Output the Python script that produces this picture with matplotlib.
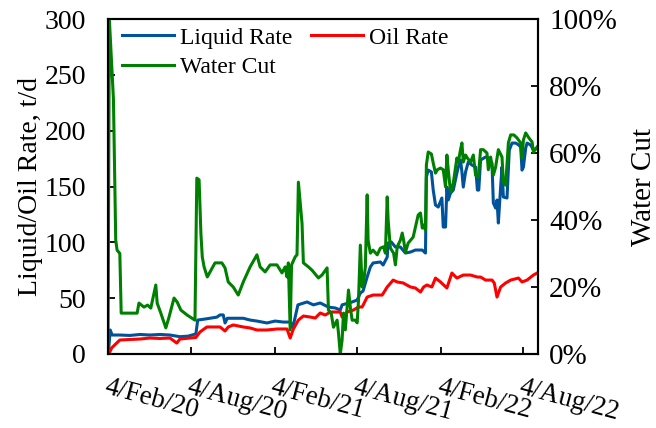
import matplotlib
matplotlib.use('Agg')
import matplotlib.pyplot as plt
from matplotlib.ticker import PercentFormatter
import pandas as pd

# Liquid rate, t/d
liq_dates = ['2020-02-05', '2020-02-09', '2020-02-13', '2020-03-01', '2020-03-23', '2020-04-14',
             '2020-05-06', '2020-05-28', '2020-06-19', '2020-07-11', '2020-07-29', '2020-08-15',
             '2020-08-19', '2020-09-04', '2020-09-30', '2020-10-07', '2020-10-14', '2020-10-18',
             '2020-10-23', '2020-11-09', '2020-11-27', '2020-12-12', '2020-12-27', '2021-01-18',
             '2021-02-05', '2021-02-23', '2021-03-10', '2021-03-14', '2021-03-19', '2021-03-27',
             '2021-04-16', '2021-04-30', '2021-05-15', '2021-06-02', '2021-06-17', '2021-06-28',
             '2021-07-02', '2021-07-24', '2021-08-04', '2021-08-11', '2021-08-17', '2021-08-26',
             '2021-09-02', '2021-09-08', '2021-09-24', '2021-09-30', '2021-10-09', '2021-10-11',
             '2021-10-18', '2021-10-27', '2021-11-07', '2021-11-18', '2021-11-29', '2021-12-10',
             '2021-12-25', '2022-01-01', '2022-01-03', '2022-01-07', '2022-01-14', '2022-01-18',
             '2022-01-23', '2022-01-29', '2022-02-06', '2022-02-09', '2022-02-14', '2022-02-17',
             '2022-02-20', '2022-02-25', '2022-03-03', '2022-03-11', '2022-03-14', '2022-03-19',
             '2022-03-22', '2022-03-25', '2022-03-30', '2022-04-05', '2022-04-13', '2022-04-21',
             '2022-04-25', '2022-04-28', '2022-05-02', '2022-05-13', '2022-05-20', '2022-05-27',
             '2022-05-30', '2022-06-04', '2022-06-07', '2022-06-10', '2022-06-15', '2022-06-18',
             '2022-06-21', '2022-06-29', '2022-07-04', '2022-07-10', '2022-07-18', '2022-07-25',
             '2022-07-29', '2022-08-01', '2022-08-04', '2022-08-09', '2022-08-12', '2022-08-20',
             '2022-08-26', '2022-09-03']
liq_values = [2, 21.5, 17, 17, 16.6, 17.5,
              17, 17.5, 17, 15.5, 16, 18,
              30.4, 31.3, 33, 35, 35, 27.8,
              32, 32, 32, 30.4, 29.5, 27.8,
              29.5, 28.6, 28.6, 24, 29.5, 44,
              46.6, 44, 45.7, 42, 41.2, 39.4,
              44, 46.6, 48.3, 54.6, 56.4, 69,
              77.9, 81.5, 82.4, 79.7, 86.8, 99.4,
              100.3, 95.8, 95.8, 90.4, 91.3, 93.1,
              93.1, 90.4, 158.5, 164.7, 163, 146.8,
              133.4, 131.6, 139.7, 113.7, 113.7, 149.5,
              137.9, 144.1, 146.8, 162, 167.4, 173.7,
              163, 149.5, 163, 171.9, 169.2, 167.4,
              146.8, 146.8, 173.7, 176.4, 175.5, 171,
              135.2, 130.7, 137.9, 117.3, 149.5, 167.4,
              140.6, 139.7, 182.6, 188.9, 188.9, 187.1,
              185.3, 164.7, 167.4, 184.4, 188.9, 187.1,
              182.6, 184.4]

# Oil rate, t/d
oil_dates = ['2020-02-06', '2020-02-12', '2020-02-23', '2020-03-01', '2020-03-23', '2020-04-14',
             '2020-05-06', '2020-05-28', '2020-06-19', '2020-07-04', '2020-07-11', '2020-08-02',
             '2020-08-15', '2020-08-24', '2020-09-08', '2020-09-26', '2020-10-07', '2020-10-18',
             '2020-10-25', '2020-11-05', '2020-11-27', '2020-12-12', '2020-12-27', '2021-01-18',
             '2021-02-09', '2021-03-03', '2021-03-10', '2021-03-17', '2021-03-28', '2021-04-08',
             '2021-04-23', '2021-05-04', '2021-05-15', '2021-05-26', '2021-06-06', '2021-06-28',
             '2021-07-02', '2021-07-13', '2021-07-27', '2021-08-07', '2021-08-15', '2021-08-26',
             '2021-09-08', '2021-09-28', '2021-10-09', '2021-10-22', '2021-10-31', '2021-11-13',
             '2021-11-29', '2021-12-10', '2021-12-21', '2021-12-28', '2022-01-04', '2022-01-15',
             '2022-01-23', '2022-02-03', '2022-02-17', '2022-02-28', '2022-03-11', '2022-03-25',
             '2022-04-10', '2022-04-25', '2022-05-02', '2022-05-13', '2022-05-27', '2022-06-01',
             '2022-06-07', '2022-06-15', '2022-06-26', '2022-07-07', '2022-07-24', '2022-08-01',
             '2022-08-12', '2022-08-26', '2022-09-03']
oil_values = [0, 5.4, 9.8, 12.5, 13, 13.4,
              14.3, 13.9, 14.3, 9.8, 13.4, 14.3,
              14.8, 19.7, 24.2, 24.2, 24.2, 20.6,
              24.2, 26, 24.2, 23.3, 21.5, 21.5,
              22.4, 22.4, 14.3, 22.4, 30.4, 34,
              33.1, 32.2, 36.7, 34.9, 37.6, 37.6,
              33.1, 37.6, 39.4, 42.1, 42.1, 51,
              52.8, 52.8, 60, 66.2, 64.5, 63.6,
              60, 59.1, 55.5, 60, 61.8, 60,
              68, 64.5, 59.1, 72.5, 68, 70.7,
              70.7, 68.9, 68.9, 66.2, 66.2, 63.6,
              51, 60, 63.6, 66.2, 68, 64.5,
              66.2, 70.7, 72.5]

# Water cut, %
wc_dates = ['2020-02-04', '2020-02-07', '2020-02-16', '2020-02-21', '2020-02-24', '2020-03-01',
            '2020-03-04', '2020-04-08', '2020-04-12', '2020-04-23', '2020-05-01', '2020-05-08',
            '2020-05-19', '2020-05-22', '2020-05-30', '2020-06-10', '2020-06-17', '2020-06-28',
            '2020-07-05', '2020-07-13', '2020-07-27', '2020-08-13', '2020-08-17', '2020-08-22',
            '2020-08-26', '2020-08-29', '2020-09-02', '2020-09-09', '2020-09-17', '2020-09-26',
            '2020-10-11', '2020-10-18', '2020-10-25', '2020-11-05', '2020-11-16', '2020-11-27',
            '2020-12-12', '2020-12-27', '2021-01-03', '2021-01-14', '2021-01-25', '2021-02-09',
            '2021-02-20', '2021-02-27', '2021-03-03', '2021-03-06', '2021-03-10', '2021-03-13',
            '2021-03-21', '2021-03-25', '2021-03-28', '2021-04-05', '2021-04-08', '2021-04-19',
            '2021-04-27', '2021-05-11', '2021-05-19', '2021-05-30', '2021-06-02', '2021-06-08',
            '2021-06-13', '2021-06-21', '2021-06-24', '2021-06-28', '2021-07-02', '2021-07-05',
            '2021-07-09', '2021-07-16', '2021-07-20', '2021-07-24', '2021-07-31', '2021-08-04',
            '2021-08-07', '2021-08-11', '2021-08-15', '2021-08-18', '2021-08-22', '2021-08-26',
            '2021-08-28', '2021-09-02', '2021-09-08', '2021-09-17', '2021-09-24', '2021-10-01',
            '2021-10-05', '2021-10-09', '2021-10-11', '2021-10-16', '2021-10-23', '2021-10-27',
            '2021-10-31', '2021-11-07', '2021-11-11', '2021-11-14', '2021-11-18', '2021-11-24',
            '2021-12-05', '2021-12-10', '2021-12-16', '2021-12-21', '2021-12-25', '2021-12-27',
            '2022-01-01', '2022-01-03', '2022-01-07', '2022-01-14', '2022-01-18', '2022-01-23',
            '2022-01-27', '2022-02-03', '2022-02-09', '2022-02-14', '2022-02-17', '2022-02-20',
            '2022-02-25', '2022-03-01', '2022-03-03', '2022-03-11', '2022-03-14', '2022-03-19',
            '2022-03-22', '2022-03-25', '2022-03-30', '2022-04-03', '2022-04-10', '2022-04-16',
            '2022-04-21', '2022-04-27', '2022-05-02', '2022-05-08', '2022-05-16', '2022-05-19',
            '2022-05-24', '2022-05-30', '2022-06-04', '2022-06-10', '2022-06-18', '2022-06-21',
            '2022-06-26', '2022-07-02', '2022-07-07', '2022-07-14', '2022-07-21', '2022-07-29',
            '2022-08-01', '2022-08-04', '2022-08-09', '2022-08-16', '2022-08-23', '2022-08-26',
            '2022-09-03']
wc_values = [0, 100, 76, 34, 31, 30,
             12.2, 12.2, 15.2, 14, 14.6, 13.7,
             20.6, 15.2, 12.2, 7.8, 11, 16.7,
             15.5, 13.1, 11.6, 10.1, 52.5, 52,
             36, 29, 26, 23, 25, 27.2,
             27.2, 25.7, 21.5, 20, 17.6, 21.5,
             26, 29.6, 26, 24.5, 26.6, 26.6,
             24.2, 26, 23, 27.2, 7.2, 26.6,
             29, 29.6, 51.3, 39, 27.2, 26,
             25, 22.7, 23.6, 25.7, 13.1, 12.2,
             8, 10.1, 6.3, 0, 4.2, 12.2,
             7.2, 19.1, 14, 10.1, 10.1, 9.3,
             16.1, 32.5, 20, 21.2, 26, 47.5,
             34, 30.1, 31, 29.6, 31.6, 32,
             30.1, 46.9, 40, 31.6, 30.1, 26.6,
             32, 34, 36.1, 34, 30.4, 33.1,
             34.9, 37.9, 41.5, 42.1, 37.6, 38.5,
             37, 56.4, 60.3, 59.7, 57, 54,
             55, 55.5, 55, 49.9, 59.4, 55,
             48.4, 49.9, 51, 58.5, 57.3, 61,
             63, 57.3, 59.4, 58.5, 57.3, 59.4,
             53.4, 52.8, 61, 61, 60, 55,
             58.8, 53.4, 55.8, 61, 58.8, 51.3,
             50.4, 63, 65.4, 65.4, 64.5, 63,
             58.5, 63.9, 66, 64.5, 63.3, 60.3,
             61.8]

tick_dates = ['2020-02-04', '2020-08-04', '2021-02-04', '2021-08-04', '2022-02-04', '2022-08-04']
tick_labels = ['4/Feb/20', '4/Aug/20', '4/Feb/21', '4/Aug/21', '4/Feb/22', '4/Aug/22']

plt.rcParams['font.family'] = ['Liberation Serif', 'DejaVu Serif']

fig = plt.figure(figsize=(6.56, 4.28), dpi=100)
ax = fig.add_axes([0.1646, 0.1729, 0.6555, 0.7827])
ax2 = ax.twinx()

l1, = ax.plot(pd.to_datetime(liq_dates), liq_values, color='#00529B', lw=2.2, label='Liquid Rate')
l2, = ax.plot(pd.to_datetime(oil_dates), oil_values, color='#FF0000', lw=2.2, label='Oil Rate')
l3, = ax2.plot(pd.to_datetime(wc_dates), wc_values, color='#008000', lw=2.2, label='Water Cut')

ax.set_xlim(pd.Timestamp('2020-02-04'), pd.Timestamp('2022-09-05'))
ax.set_ylim(0, 300)
ax.set_yticks(range(0, 301, 50))
ax2.set_ylim(0, 100)
ax2.set_yticks(range(0, 101, 20))
ax2.yaxis.set_major_formatter(PercentFormatter(decimals=0))

ax.set_xticks(pd.to_datetime(tick_dates))
ax.set_xticklabels(tick_labels, rotation=-15, ha='left', va='top', rotation_mode='anchor')

ax.tick_params(axis='both', direction='in', length=5, width=1.3, colors='black')
ax.tick_params(axis='x', pad=15, labelsize=19.5)
ax.tick_params(axis='y', pad=16, labelsize=20)
ax2.tick_params(axis='y', direction='in', length=5, width=1.3, labelsize=21, pad=8)

for a in (ax, ax2):
    for s in a.spines.values():
        s.set_linewidth(1.5)
        s.set_color('black')

ax.set_ylabel('Liquid/Oil Rate, t/d', fontsize=20, labelpad=1)
ax2.set_ylabel('Water Cut', fontsize=21, labelpad=10)

ax2.legend([l1, l3, l2], ['Liquid Rate', 'Water Cut', 'Oil Rate'], ncol=2, loc='upper left',
           bbox_to_anchor=(0.032, 0.976), frameon=False, fontsize=17, handlelength=2.2,
           handletextpad=0.25, columnspacing=0.8, borderpad=0, borderaxespad=0, labelspacing=0.33)

fig.savefig('out.png', dpi=100)
